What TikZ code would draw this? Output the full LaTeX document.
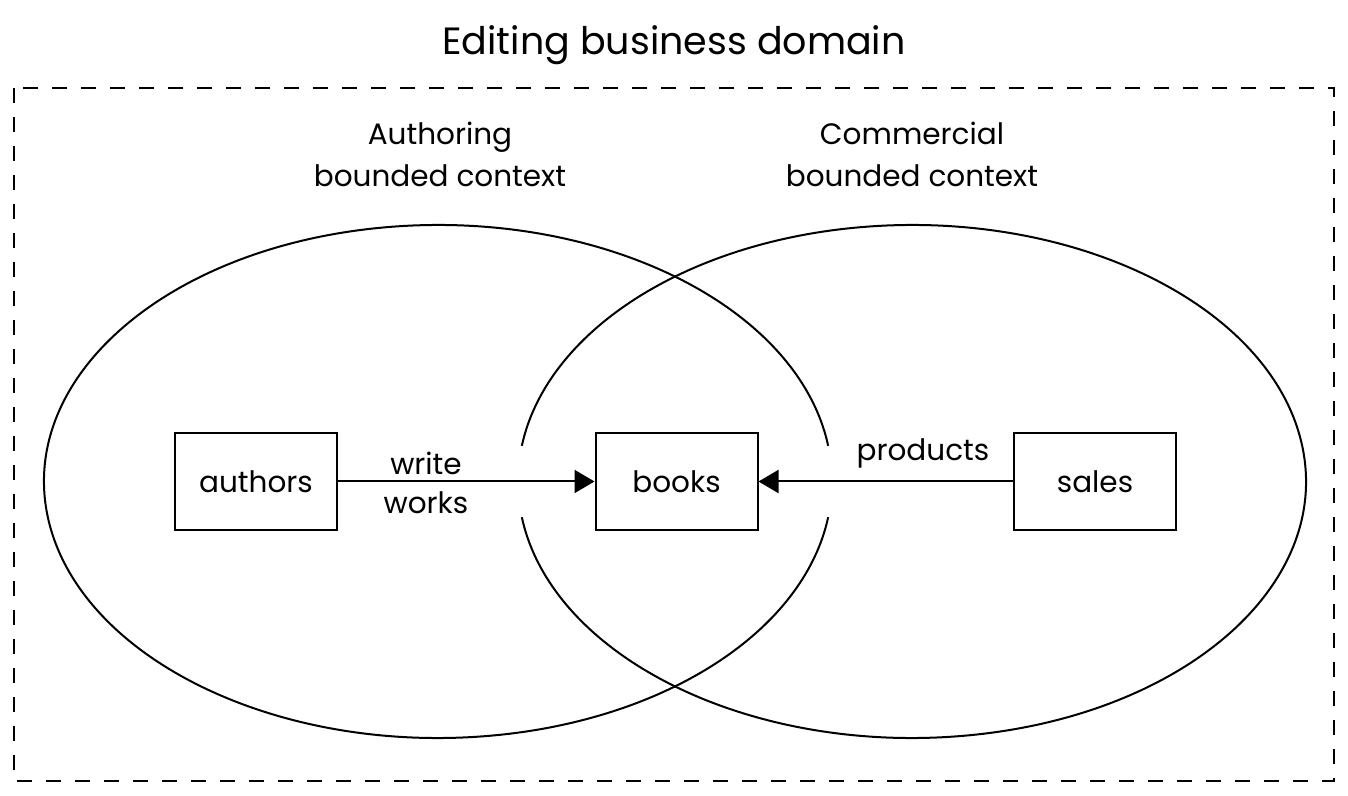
\documentclass[tikz,border=0pt]{standalone}
\usepackage{fontspec}
\setmainfont{Poppins}
\usetikzlibrary{arrows.meta}
\begin{document}
\begin{tikzpicture}[x=1pt,y=1pt,
  box/.style={draw,line width=2pt,minimum width=162pt,minimum height=97pt,inner sep=0pt,font=\fontsize{29.5}{34}\selectfont},
  lbl/.style={font=\fontsize{29.5}{34}\selectfont,inner sep=0pt},
  ctx/.style={font=\fontsize{29.5}{42}\selectfont,align=center,inner sep=0pt},
  conn/.style={line width=2pt,-{Triangle[length=20pt,width=23pt]}},
  oval/.style={line width=2pt}]
\useasboundingbox (0,0) rectangle (1348,795);
\node[font=\fontsize{38}{44}\selectfont,inner sep=0pt] (title) at (674,750) {Editing business domain};
\draw[line width=2pt,dash pattern=on 15pt off 14pt] (14,707) rectangle (1334,14);
\coordinate (lc) at (438,313.5);
\coordinate (rc) at (912,313.5);
\draw[oval] (lc) ++(8:394 and 256.5) arc[start angle=8,end angle=352,x radius=394,y radius=256.5];
\draw[oval] (rc) ++(-172:394 and 256.5) arc[start angle=-172,end angle=172,x radius=394,y radius=256.5];
\node[ctx] (actx) at (440,641) {Authoring\\bounded context};
\node[ctx] (cctx) at (912,641) {Commercial\\bounded context};
\node[box] (authors) at (256,313.5) {authors};
\node[box] (books) at (676.5,313.5) {books};
\node[box] (sales) at (1095,313.5) {sales};
\draw[conn] (authors) -- (books);
\draw[conn] (sales) -- (books);
\node[lbl] (write) at (426,332) {write};
\node[lbl] (works) at (426,292) {works};
\node[lbl] (products) at (923,342) {products};
\end{tikzpicture}
\end{document}
